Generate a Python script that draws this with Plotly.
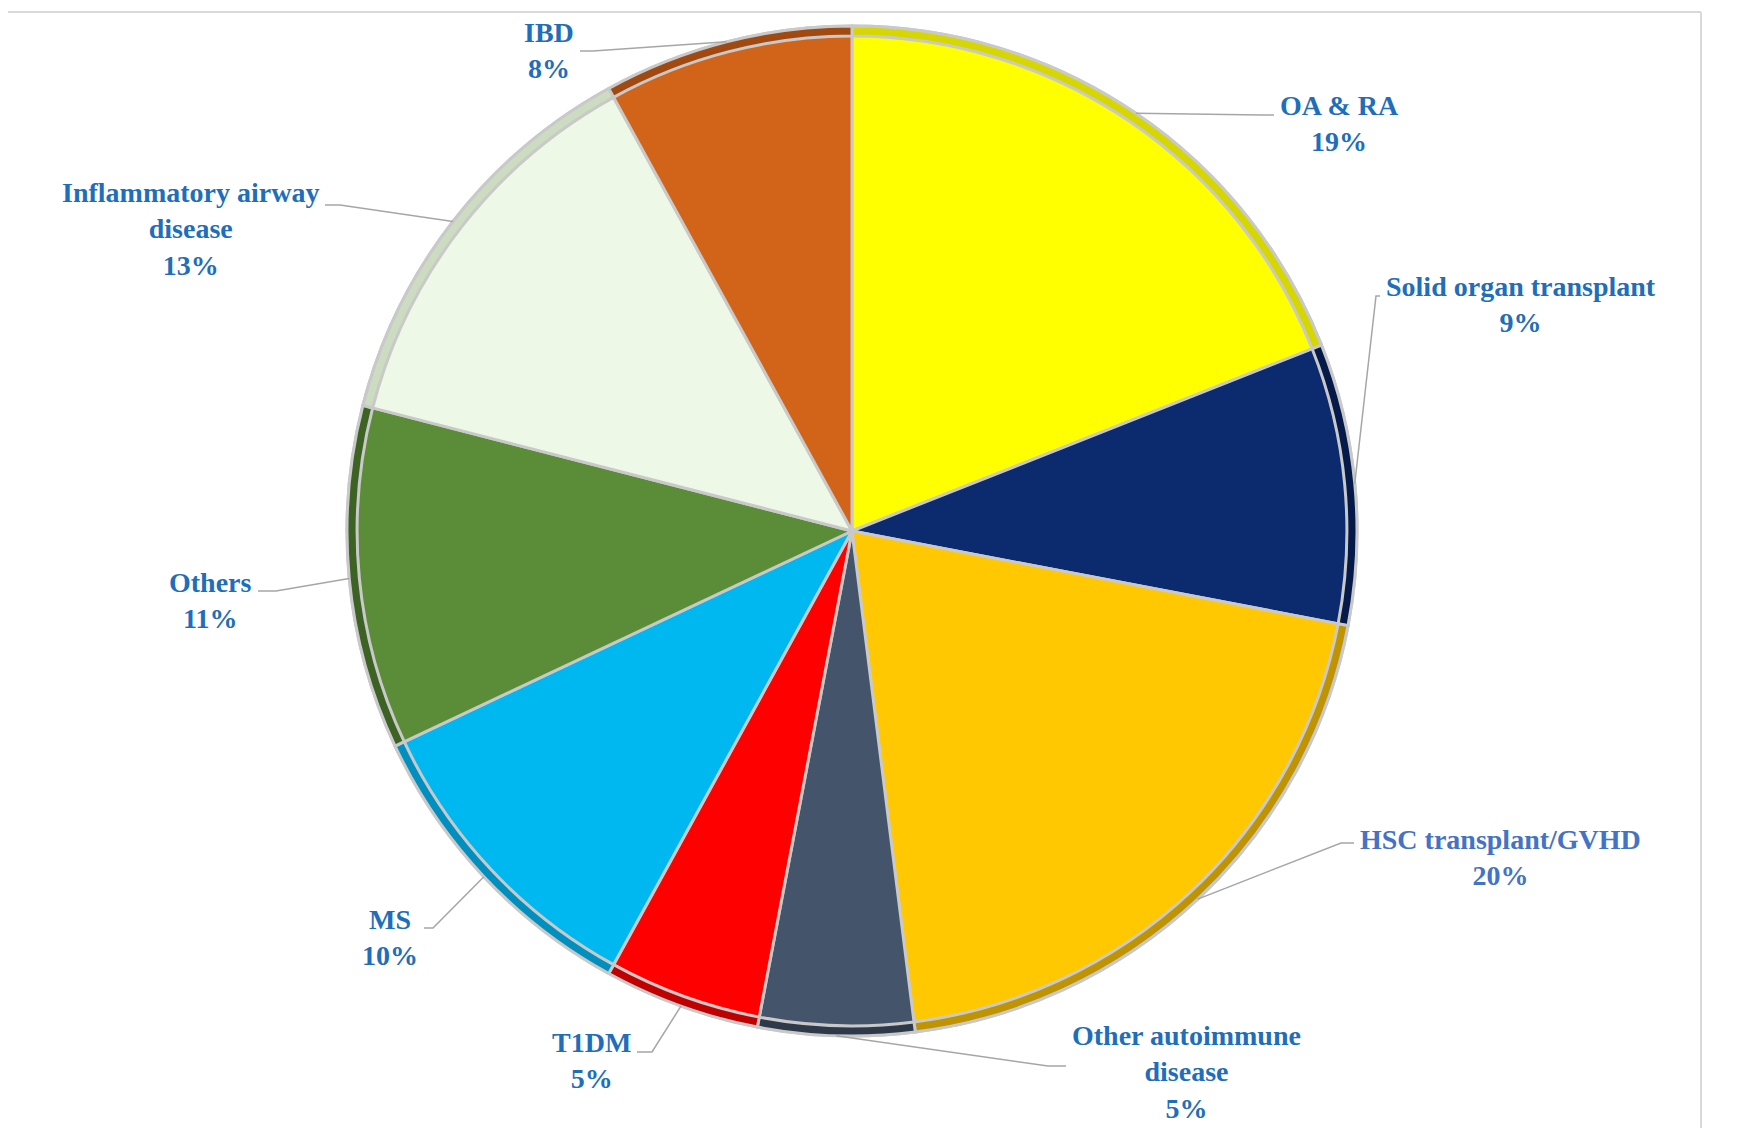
import math
import plotly.graph_objects as go

# ---- data ----
categories = ["OA & RA", "Solid organ transplant", "HSC transplant/GVHD",
              "Other autoimmune disease", "T1DM", "MS", "Others",
              "Inflammatory airway disease", "IBD"]
label_lines = [["OA & RA"], ["Solid organ transplant"], ["HSC transplant/GVHD"],
               ["Other autoimmune", "disease"], ["T1DM"], ["MS"], ["Others"],
               ["Inflammatory airway", "disease"], ["IBD"]]
values = [19, 9, 20, 5, 5, 10, 11, 13, 8]

# ---- styles ----
colors = ["#FFFF00", "#0B2B6E", "#FFC800", "#44546A", "#FF0000",
          "#00B8F0", "#5B8C37", "#EEF8E6", "#D2641A"]
rim_colors = ["#D6D600", "#051A48", "#C09400", "#2E3A4A", "#C00000",
              "#0090C0", "#3D6324", "#CCDCC0", "#A04A12"]
label_colors = ["#1F6EBA"] * 9
label_colors[2] = "#4472C4"

W, H = 1764, 1141
CX, CY, R = 844, 523, 505  # pie centre / radius in pixels

# label layout (pixels): anchor side, text x, block centre y, elbow point
label_layout = [
    ("left",  1270, 115, (1254, 107)),
    ("left",  1376, 297, (1368, 288)),
    ("left",  1350, 850, (1333, 835)),
    ("left",  1062, 1064, (1040, 1058)),
    ("right", 625, 1052, (644, 1044)),
    ("right", 412, 929, (425, 920)),
    ("right", 246, 592, (268, 583)),
    ("right", 313, 221, (332, 197)),
    ("right", 568, 42, (585, 43)),
]

def px(x):
    return x / W

def py(y):
    return 1 - y / H

fig = go.Figure()
dom = dict(x=[px(CX - R), px(CX + R)], y=[py(CY + R), py(CY - R)])
fig.add_trace(go.Pie(
    labels=categories, values=values, sort=False, direction="clockwise",
    rotation=0, domain=dom, textinfo="none", hoverinfo="label+percent",
    marker=dict(colors=colors, line=dict(color="#C9C9C9", width=3)),
    showlegend=False,
))
fig.add_trace(go.Pie(
    labels=categories, values=values, sort=False, direction="clockwise",
    rotation=0, domain=dom, textinfo="none", hoverinfo="skip", hole=0.98,
    marker=dict(colors=rim_colors, line=dict(color="#C9C9C9", width=3)),
    showlegend=False,
))

total = sum(values)
shapes = []
annotations = []
cum = 0
for i, v in enumerate(values):
    mid = (cum + v / 2) / total * 2 * math.pi
    cum += v
    ex = CX + R * math.sin(mid)
    ey = CY - R * math.cos(mid)
    side, tx, ty, (elx, ely) = label_layout[i]
    hx = tx - 4 if side == "left" else tx + 4
    shapes.append(dict(
        type="path", xref="paper", yref="paper",
        path=f"M {px(ex)},{py(ey)} L {px(elx)},{py(ely)} L {px(hx)},{py(ely)}",
        line=dict(color="#A6A6A6", width=1.5),
    ))
    pct = round(v / total * 100)
    text = "<br>".join([f"<b>{t}</b>" for t in label_lines[i]] + [f"<b>{pct}%</b>"])
    annotations.append(dict(
        x=px(tx), y=py(ty), xref="paper", yref="paper", text=text,
        showarrow=False, xanchor=side, yanchor="middle", align="center",
        font=dict(family="Liberation Serif, Times New Roman, serif", size=28,
                  color=label_colors[i]),
    ))

# light frame lines (top and right)
shapes.append(dict(type="line", xref="paper", yref="paper",
                   x0=0, y0=py(4), x1=px(1693), y1=py(4),
                   line=dict(color="#D9D9D9", width=2)))
shapes.append(dict(type="line", xref="paper", yref="paper",
                   x0=px(1693), y0=py(4), x1=px(1693), y1=py(1120),
                   line=dict(color="#D9D9D9", width=2)))

fig.update_layout(
    width=W, height=H, margin=dict(l=0, r=0, t=0, b=0),
    paper_bgcolor="white", plot_bgcolor="white",
    shapes=shapes, annotations=annotations,
)
fig.write_html("out.html")
